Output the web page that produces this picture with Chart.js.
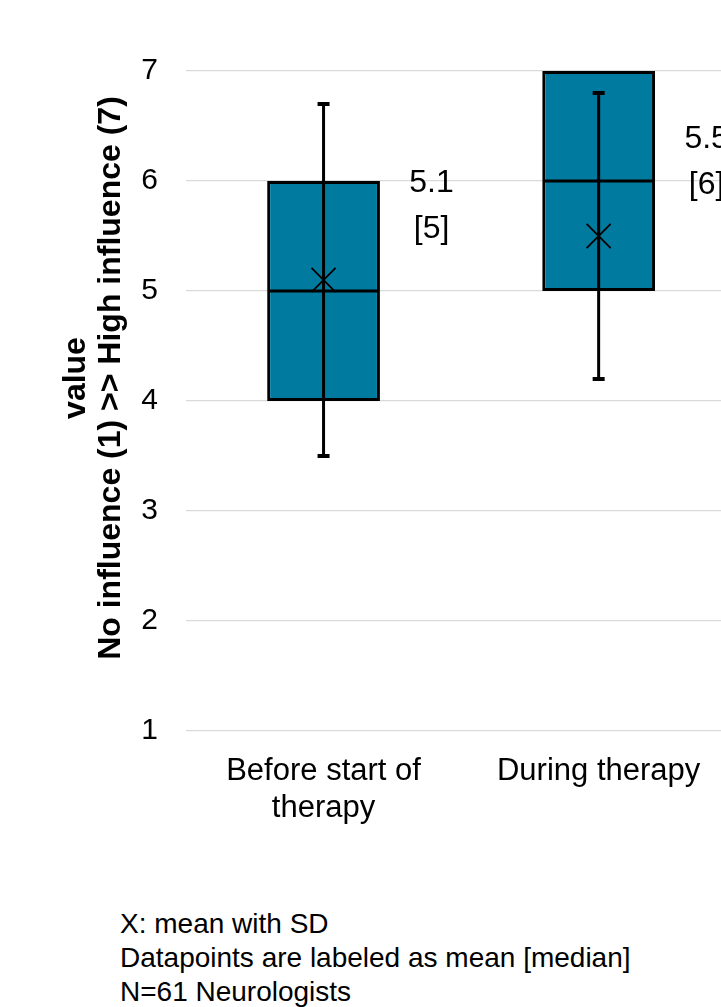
<!DOCTYPE html>
<html>
<head>
<meta charset="utf-8">
<script src="https://cdn.jsdelivr.net/npm/chart.js@4.4.1/dist/chart.umd.min.js"></script>
<style>
  html, body { margin: 0; padding: 0; background: #fff; overflow: hidden; width: 721px; height: 1007px; }
  #wrap { position: absolute; left: 0; top: 0; width: 755px; height: 860px; }
  #notes { position: absolute; left: 120px; top: 907px; font-family: 'Liberation Sans', Arial, sans-serif; font-size: 28px; line-height: 34px; color: #000; white-space: nowrap; }
</style>
</head>
<body>
<div id="wrap"><canvas id="c" width="755" height="860"></canvas></div>
<div id="notes">
  <div>X: mean with SD</div>
  <div>Datapoints are labeled as mean [median]</div>
  <div>N=61 Neurologists</div>
</div>
<script>
const categories = [['Before start of', 'therapy'], 'During therapy'];
const q1Values = [4, 5];
const medianValues = [5, 6];
const q3Values = [6, 7];
const meanValues = [5.1, 5.5];
const sdValues = [1.6, 1.3];
const meanLabels = ['5.1', '5.5'];
const medianLabels = ['[5]', '[6]'];
const yTickValues = [1, 2, 3, 4, 5, 6, 7];
const yTitleLines = ['value', 'No influence (1) >> High influence (7)'];

const FONT = "'Liberation Sans', Arial, sans-serif";

const boxExtras = {
  id: 'boxExtras',
  afterDatasetDraw(chart, args) {
    if (args.index !== 0) return;
    const ctx = chart.ctx;
    const y = chart.scales.y;
    const meta = chart.getDatasetMeta(0);
    ctx.save();
    ctx.strokeStyle = '#000';
    meta.data.forEach((bar, i) => {
      const half = bar.width / 2;
      // median
      ctx.lineWidth = 3;
      const ym = y.getPixelForValue(medianValues[i]);
      ctx.beginPath();
      ctx.moveTo(bar.x - half + 1.5, ym);
      ctx.lineTo(bar.x + half - 1.5, ym);
      ctx.stroke();
      // whisker (mean +- SD)
      const yTop = y.getPixelForValue(meanValues[i] + sdValues[i]);
      const yBot = y.getPixelForValue(meanValues[i] - sdValues[i]);
      ctx.beginPath();
      ctx.moveTo(bar.x, yTop);
      ctx.lineTo(bar.x, yBot);
      ctx.stroke();
      ctx.lineWidth = 4;
      ctx.beginPath();
      ctx.moveTo(bar.x - 6, yTop); ctx.lineTo(bar.x + 6, yTop);
      ctx.moveTo(bar.x - 6, yBot); ctx.lineTo(bar.x + 6, yBot);
      ctx.stroke();
    });
    ctx.restore();
  },
  afterDraw(chart) {
    const ctx = chart.ctx;
    const x = chart.scales.x;
    const y = chart.scales.y;
    ctx.save();
    ctx.fillStyle = '#000';
    ctx.textAlign = 'center';
    ctx.textBaseline = 'middle';
    ctx.font = '32px ' + FONT;
    meanValues.forEach((m, i) => {
      const px = x.getPixelForValue(i) + 108;
      const py = y.getPixelForValue(m);
      ctx.fillText(meanLabels[i], px, py - 97);
      ctx.fillText(medianLabels[i], px, py - 51);
    });
    // y-axis title
    ctx.translate(0, 378);
    ctx.rotate(-Math.PI / 2);
    ctx.font = 'bold 32px ' + FONT;
    ctx.fillText(yTitleLines[0], 0, 76);
    ctx.fillText(yTitleLines[1], 0, 111);
    ctx.restore();
  }
};

new Chart(document.getElementById('c'), {
  data: {
    labels: categories,
    datasets: [
      {
        type: 'bar',
        data: categories.map((c, i) => [q1Values[i], q3Values[i]]),
        backgroundColor: '#017A9F',
        borderColor: '#000',
        borderWidth: 3,
        borderSkipped: false,
        categoryPercentage: 1,
        barPercentage: 0.41,
        order: 2
      },
      {
        type: 'line',
        data: meanValues,
        showLine: false,
        pointStyle: 'crossRot',
        pointRadius: 17,
        pointHoverRadius: 17,
        pointBorderColor: '#000',
        pointBorderWidth: 1.8,
        order: 0
      }
    ]
  },
  options: {
    responsive: false,
    animation: false,
    events: [],
    layout: { padding: { top: 71, left: 0, right: 5, bottom: 0 } },
    plugins: { legend: { display: false }, tooltip: { enabled: false }, title: { display: false } },
    scales: {
      x: {
        type: 'category',
        offset: true,
        grid: { display: false },
        border: { display: false },
        ticks: { color: '#000', font: { family: FONT, size: 31 }, padding: 14, maxRotation: 0, autoSkip: false },
        afterFit(s) { s.height = 129; }
      },
      y: {
        min: 1,
        max: 7,
        afterBuildTicks(s) { s.ticks = yTickValues.map(v => ({ value: v })); },
        grid: { color: '#d9d9d9', lineWidth: 1.3, drawTicks: false },
        border: { display: false },
        ticks: { color: '#000', font: { family: FONT, size: 30 }, padding: 28 },
        afterFit(s) { s.width = 186; }
      }
    }
  },
  plugins: [boxExtras]
});
</script>
</body>
</html>
